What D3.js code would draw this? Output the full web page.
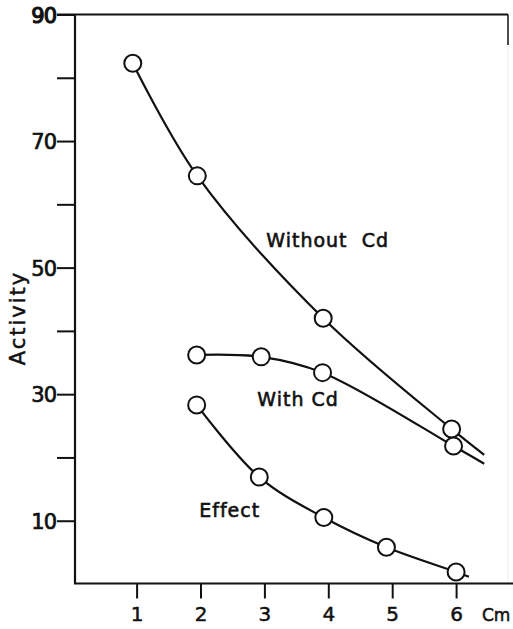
<!DOCTYPE html>
<html>
<head>
<meta charset="utf-8">
<script src="https://cdn.jsdelivr.net/npm/d3@7"></script>
<style>
  html, body { margin: 0; padding: 0; background: #fff; }
  svg { display: block; }
  text { font-family: "DejaVu Sans", sans-serif; fill: #111; }
</style>
</head>
<body>
<svg id="chart" width="513" height="629"></svg>
<script>
// ---- data ----
const xTicks = [1, 2, 3, 4, 5, 6];
const yTicks = [10, 20, 30, 40, 50, 60, 70, 80, 90];
const yTickLabels = [10, 30, 50, 70, 90];

const withoutX = [0.94, 1.95, 3.92, 5.93];
const withoutY = [82.3, 64.5, 42.0, 24.5];
const withoutEnd = [6.44, 20.4];

const withX = [1.94, 2.95, 3.91, 5.96];
const withY = [36.2, 35.9, 33.4, 21.8];
const withEnd = [6.44, 19.0];

const effectX = [1.94, 2.92, 3.93, 4.91, 6.0];
const effectY = [28.3, 16.9, 10.5, 5.8, 1.9];
const effectEnd = [6.2, 1.15];

const seriesLabels = [
  { text: "Without  Cd", x: 3.03, y: 53.2 },
  { text: "With Cd", x: 2.89, y: 28.2 },
  { text: "Effect", x: 1.98, y: 10.6 }
];

// ---- scales ----
const svg = d3.select("#chart");
const x = d3.scaleLinear().domain([0, 6.8]).range([72.7, 72.7 + 6.8 * 63.9]);
const y = d3.scaleLinear().domain([0, 90]).range([584, 14.5]);

const ink = "#111";
const x0 = 75, xEnd = 513, yTop = y(90), yBot = 583.5, xRight = 508;

// frame: top border and faint right border
svg.append("line").attr("x1", 57).attr("x2", xRight).attr("y1", yTop).attr("y2", yTop)
  .attr("stroke", ink).attr("stroke-width", 2);
svg.append("line").attr("x1", xRight).attr("x2", xRight).attr("y1", yTop).attr("y2", 45)
  .attr("stroke", ink).attr("stroke-width", 1.5);
svg.append("line").attr("x1", xRight).attr("x2", xRight).attr("y1", 45).attr("y2", yBot)
  .attr("stroke", "#ececec").attr("stroke-width", 1);

// y axis
const yAxis = d3.axisLeft(y).tickValues(yTicks).tickSize(18).tickPadding(2)
  .tickFormat(d => yTickLabels.includes(d) ? d : "");
const gy = svg.append("g").attr("transform", `translate(${x0},0)`).call(yAxis);
gy.select(".domain").attr("stroke", ink).attr("stroke-width", 2.2)
  .attr("d", `M0,${yTop}V${yBot}`);
gy.selectAll(".tick line").attr("stroke", ink).attr("stroke-width", 2);
gy.selectAll(".tick text").style("font-size", "21px")
  .style("stroke", ink).style("stroke-width", "0.7px")
  .attr("dy", "0.36em").attr("x", -19).style("letter-spacing", "-1px");
gy.selectAll(".tick text").filter(d => d === 90).style("stroke-width", "1.2px");

// x axis
const xAxis = d3.axisBottom(x).tickValues(xTicks).tickSize(15).tickPadding(8).tickFormat(d => d);
const gx = svg.append("g").attr("transform", `translate(0,${yBot})`).call(xAxis);
gx.select(".domain").attr("stroke", ink).attr("stroke-width", 2.2)
  .attr("d", `M${x0 - 1},0H${xEnd}`);
gx.selectAll(".tick line").attr("stroke", ink).attr("stroke-width", 2);
gx.selectAll(".tick text").style("font-size", "20px").attr("dy", "0.71em")
  .style("stroke", ink).style("stroke-width", "0.5px");

svg.append("text").attr("x", 482).attr("y", 621).text("Cm")
  .style("font-size", "17px").style("stroke", ink).style("stroke-width", "0.5px");

// y title
svg.append("text").attr("transform", "translate(25,318) rotate(-90)")
  .attr("text-anchor", "middle").text("Activity")
  .style("font-size", "21px").style("letter-spacing", "2px")
  .style("stroke", ink).style("stroke-width", "0.5px");

// curves
const line = d3.line().x(d => x(d[0])).y(d => y(d[1])).curve(d3.curveCatmullRom.alpha(0.5));
function series(xs, ys, end) {
  const pts = xs.map((v, i) => [v, ys[i]]);
  svg.append("path").attr("d", line(pts.concat([end])))
    .attr("fill", "none").attr("stroke", ink).attr("stroke-width", 2.2);
  return pts;
}
const allPts = []
  .concat(series(withoutX, withoutY, withoutEnd))
  .concat(series(withX, withY, withEnd))
  .concat(series(effectX, effectY, effectEnd));

svg.append("g").selectAll("circle").data(allPts).join("circle")
  .attr("cx", d => x(d[0])).attr("cy", d => y(d[1])).attr("r", 8.5)
  .attr("fill", "#fff").attr("stroke", ink).attr("stroke-width", 2);

// labels
svg.append("g").selectAll("text").data(seriesLabels).join("text")
  .attr("x", d => x(d.x)).attr("y", d => y(d.y))
  .attr("xml:space", "preserve").style("white-space", "pre")
  .style("font-size", "19px").style("letter-spacing", "1px")
  .style("stroke", ink).style("stroke-width", "0.6px")
  .text(d => d.text);
</script>
</body>
</html>
